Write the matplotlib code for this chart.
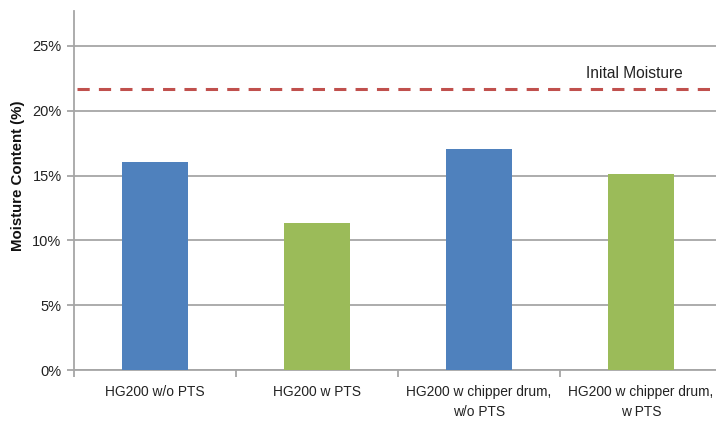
import matplotlib
matplotlib.use("Agg")
import matplotlib.pyplot as plt
from matplotlib.ticker import FuncFormatter
import numpy as np

categories = ["HG200 w/o PTS", "HG200 w PTS", "HG200 w chipper drum,\nw/o PTS", "HG200 w chipper drum,\nw PTS"]
moisture = [0.1604, 0.1135, 0.1704, 0.1512]
bar_colors = ["#4F81BD", "#9BBB59", "#4F81BD", "#9BBB59"]
initial_moisture = 0.2165
yticks = [0, 0.05, 0.10, 0.15, 0.20, 0.25]

plt.rcParams['font.family'] = ['Liberation Sans', 'DejaVu Sans']

fig = plt.figure(figsize=(7.16, 4.22), dpi=100)
ax = fig.add_axes([0.1034, 0.1232, 0.905, 0.851])

x = np.arange(len(categories))
ax.bar(x, moisture, width=0.41, color=bar_colors, zorder=3)
ax.axhline(initial_moisture, xmin=0.004, xmax=1, color="#C0504D", lw=2.2,
           dashes=(4, 3), zorder=4)
ax.text(2.66, initial_moisture + 0.012, "Inital Moisture", fontsize=11.2,
        color="#222222", ha="left", va="center")

ax.set_xlim(-0.5, 3.5)
ax.set_ylim(0, 0.277)
ax.set_yticks(yticks)
ax.yaxis.set_major_formatter(FuncFormatter(lambda v, p: f"{v*100:.0f}%"))
ax.set_xticks(x)
ax.set_xticklabels(categories, fontsize=9.9, color="#222222", linespacing=1.55)
ax.set_xticks(np.arange(-0.5, 4.0, 1.0), minor=True)
ax.tick_params(axis="x", which="major", length=0, pad=11)
ax.tick_params(axis="x", which="minor", length=5, color="#A6A6A6", width=1.3)
ax.tick_params(axis="y", length=5, color="#A6A6A6", width=1.3, labelsize=10.5,
               labelcolor="#222222", pad=4)

ax.grid(axis="y", color="#A6A6A6", lw=1.3, zorder=0)
for s in ["top", "right"]:
    ax.spines[s].set_visible(False)
for s in ["left", "bottom"]:
    ax.spines[s].set_color("#A6A6A6")
    ax.spines[s].set_linewidth(1.3)

ax.set_ylabel("Moisture Content (%)", fontsize=10.8, fontweight="bold",
              color="#111111")
ax.yaxis.set_label_coords(-0.0756, 0.54)

fig.savefig("out.png", dpi=100)
